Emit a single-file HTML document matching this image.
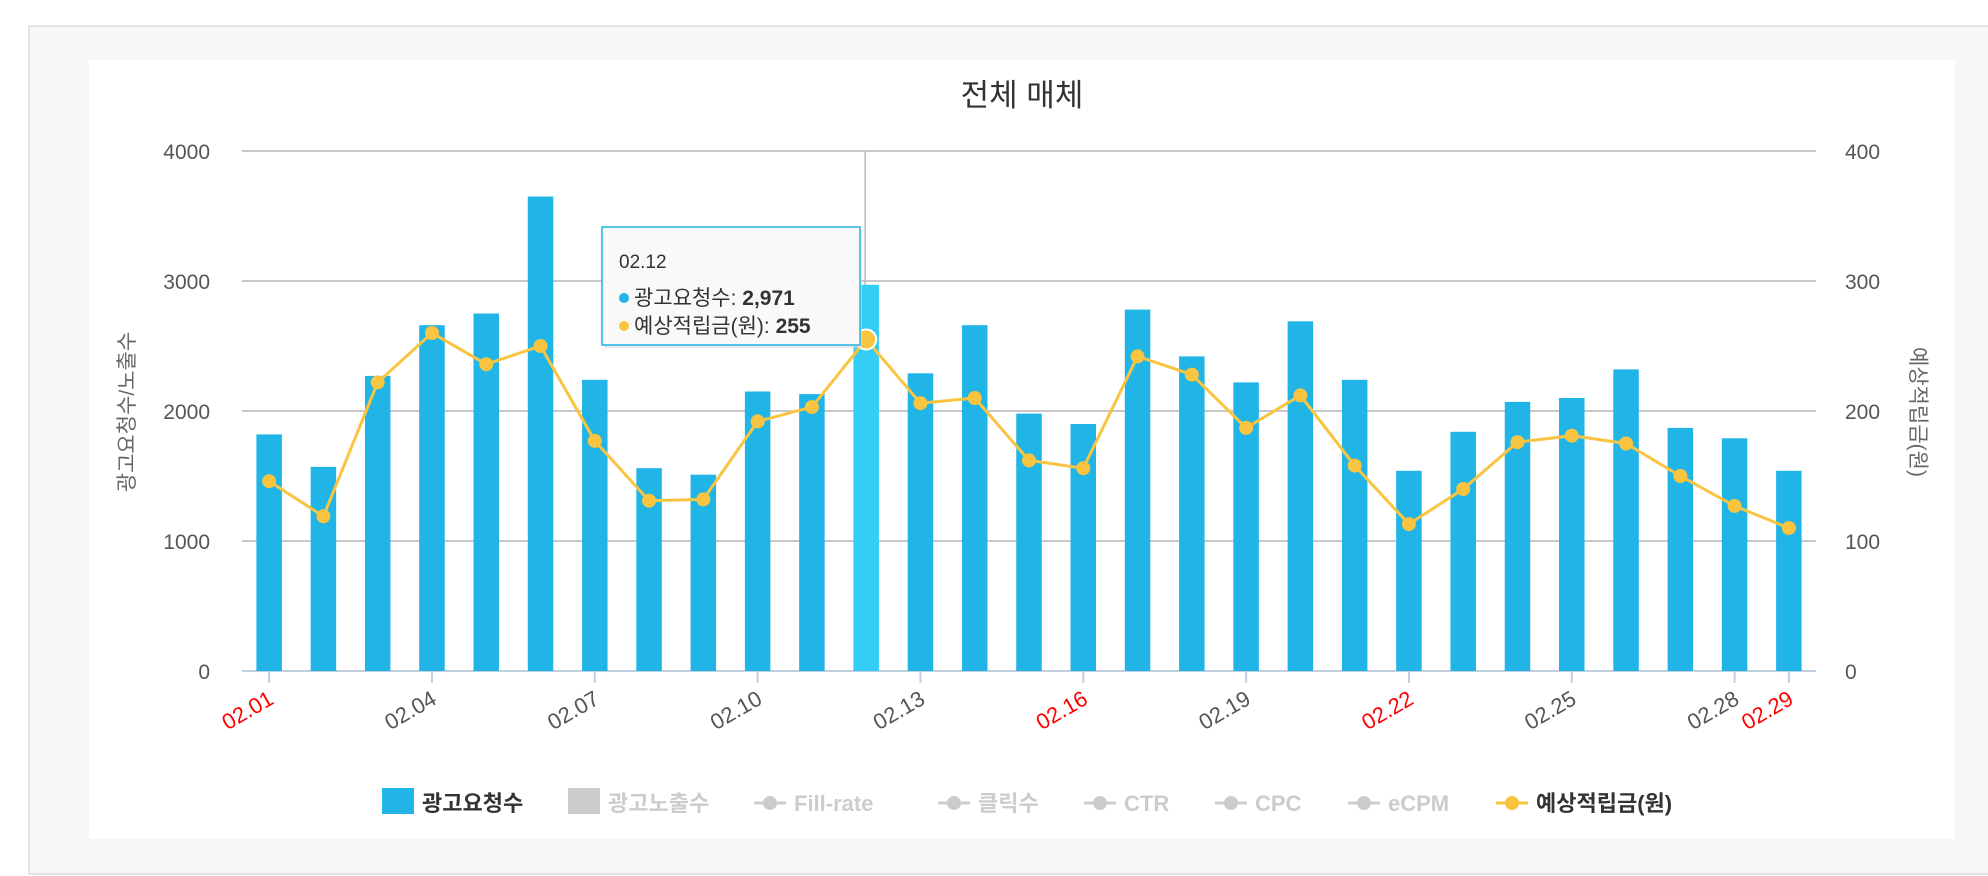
<!DOCTYPE html>
<html><head><meta charset="utf-8">
<style>
body{margin:0;width:1988px;height:876px;background:#fff;overflow:hidden;font-family:"Liberation Sans","Noto Sans CJK KR",sans-serif;}
#outer{position:absolute;left:28px;top:25px;width:1990px;height:846px;background:#f7f7f7;border:2px solid #e3e3e3;}
#card{position:absolute;left:89px;top:60px;width:1866px;height:779px;background:#fff;}
svg{position:absolute;left:0;top:0;}
</style></head><body>
<div id="outer"></div>
<div id="card"></div>
<svg id="chart" width="1988" height="876"></svg>
<script>
const categories=["02.01","02.02","02.03","02.04","02.05","02.06","02.07","02.08","02.09","02.10","02.11","02.12","02.13","02.14","02.15","02.16","02.17","02.18","02.19","02.20","02.21","02.22","02.23","02.24","02.25","02.26","02.27","02.28","02.29"];
const requests=[1820,1570,2270,2660,2750,3650,2240,1560,1510,2150,2130,2971,2290,2660,1980,1900,2780,2420,2220,2690,2240,1540,1840,2070,2100,2320,1870,1790,1540];
const earnings=[146,119,222,260,236,250,177,131,132,192,203,255,206,210,162,156,242,228,187,212,158,113,140,176,181,175,150,127,110];
const leftTicks=[0,1000,2000,3000,4000];
const rightTicks=[0,100,200,300,400];
const shownLabels=["02.01","02.04","02.07","02.10","02.13","02.16","02.19","02.22","02.25","02.28","02.29"];
const redLabels=["02.01","02.16","02.22","02.29"];
const highlight="02.12";

const NS="http://www.w3.org/2000/svg";
const svg=document.getElementById('chart');
const L=242,R=1816,T=151,B=671;
const bw=(R-L)/categories.length;
const xc=i=>L+bw*(i+0.5);
const yl=v=>B-(v/4000)*(B-T);
const yr=v=>B-(v/400)*(B-T);
function mk(tag,attrs,parent){const e=document.createElementNS(NS,tag);for(const k in attrs)e.setAttribute(k,attrs[k]);(parent||svg).appendChild(e);return e;}

const title=mk('text',{x:1022,y:106,'text-anchor':'middle','font-size':31,fill:'#333'});
title.textContent='전체 매체';



leftTicks.forEach(v=>{
  const g=mk('line',{x1:L,x2:R,y1:yl(v),y2:yl(v),stroke:v===0?'#c0d0e0':'#c8c8c8','stroke-width':2});
  
  
  const t=mk('text',{x:210,y:yl(v)+8,'text-anchor':'end','font-size':21,fill:'#555'});
  t.textContent=v;
  
  
});
rightTicks.forEach(v=>{
  const t=mk('text',{x:1845,y:yr(v)+8,'text-anchor':'start','font-size':21,fill:'#555'});
  t.textContent=v;
  
  
});
const lt=mk('text',{x:0,y:0,'text-anchor':'middle','font-size':21,fill:'#666',transform:'translate(134,412) rotate(-90)'});
lt.textContent='광고요청수/노출수';


const rt=mk('text',{x:0,y:0,'text-anchor':'middle','font-size':21,fill:'#666',transform:'translate(1911,412) rotate(90)'});
rt.textContent='예상적립금(원)';



const hi=categories.indexOf(highlight);
const ch=mk('line',{x1:xc(hi)-1,x2:xc(hi)-1,y1:T,y2:B,stroke:'#bbb','stroke-width':1.5});



categories.forEach((c,i)=>{
  const r=mk('rect',{x:xc(i)-12.75,y:yl(requests[i]),width:25.5,height:B-yl(requests[i]),fill:c===highlight?'#33cdf6':'#21b4e6'});
  
  
  if(shownLabels.includes(c)){
    const tk=mk('line',{x1:xc(i),x2:xc(i),y1:B,y2:B+12,stroke:'#c0d0e0','stroke-width':2});
    
    
    const t=mk('text',{x:0,y:0,'text-anchor':'end','font-size':22,fill:redLabels.includes(c)?'#ff0000':'#555',transform:`translate(${xc(i)+6},${B+32}) rotate(-30)`});
    t.textContent=c;
    
    
  }
});
const pts=earnings.map((v,i)=>xc(i)+','+yr(v)).join(' ');
const pl=mk('polyline',{points:pts,fill:'none',stroke:'#f9c440','stroke-width':3});


earnings.forEach((v,i)=>{
  const h=categories[i]===highlight;
  const c=mk('circle',{cx:xc(i),cy:yr(v),r:h?10:7,fill:'#f9c440',stroke:h?'#fff':'none','stroke-width':2});
  
  
});

const tg=mk('g',{});


mk('rect',{x:604,y:230,width:258,height:118,fill:'#ddd',opacity:0.6},tg);
mk('rect',{x:602,y:227,width:258,height:118,fill:'#f9f9f9',stroke:'#21b4e6','stroke-width':1.5},tg);
const t1=mk('text',{x:619,y:268,'font-size':19,fill:'#333'},tg);t1.textContent=highlight;
mk('circle',{cx:624,cy:298,r:5,fill:'#21b4e6'},tg);
const t2=mk('text',{x:634,y:305,'font-size':21,fill:'#333'},tg);
t2.innerHTML='광고요청수: <tspan font-weight="bold">'+requests[hi].toLocaleString('en-US')+'</tspan>';
mk('circle',{cx:624,cy:326,r:5,fill:'#f9c440'},tg);
const t3=mk('text',{x:634,y:333,'font-size':21,fill:'#333'},tg);
t3.innerHTML='예상적립금(원): <tspan font-weight="bold">'+earnings[hi]+'</tspan>';

const legend=[
 {x:382,name:'광고요청수',type:'sq',col:'#21b4e6',tc:'#333'},
 {x:568,name:'광고노출수',type:'sq',col:'#ccc',tc:'#ccc'},
 {x:754,name:'Fill-rate',type:'ln',col:'#ccc',tc:'#ccc'},
 {x:938,name:'클릭수',type:'ln',col:'#ccc',tc:'#ccc'},
 {x:1084,name:'CTR',type:'ln',col:'#ccc',tc:'#ccc'},
 {x:1215,name:'CPC',type:'ln',col:'#ccc',tc:'#ccc'},
 {x:1348,name:'eCPM',type:'ln',col:'#ccc',tc:'#ccc'},
 {x:1496,name:'예상적립금(원)',type:'ln',col:'#f9c440',tc:'#333'}
];
legend.forEach(it=>{
  const g=mk('g',{});
  
  
  if(it.type==='sq') mk('rect',{x:it.x,y:788,width:32,height:26,fill:it.col},g);
  else{mk('line',{x1:it.x,x2:it.x+32,y1:803,y2:803,stroke:it.col,'stroke-width':3},g);mk('circle',{cx:it.x+16,cy:803,r:7,fill:it.col},g);}
  const t=mk('text',{x:it.x+40,y:811,'font-size':22,'font-weight':'bold',fill:it.tc},g);
  t.textContent=it.name;
});
</script>
</body></html>
